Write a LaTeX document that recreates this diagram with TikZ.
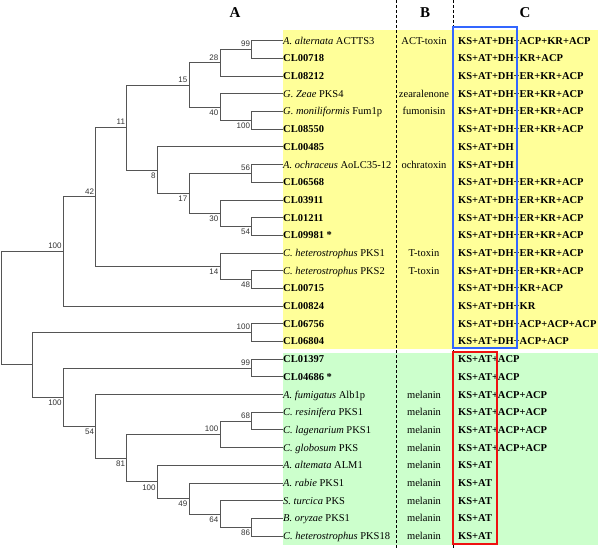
\documentclass[tikz,border=0pt]{standalone}
\usepackage{fontspec}
\setmainfont{Liberation Serif}
\newfontfamily\bootfont{Liberation Sans}
\definecolor{clyellow}{RGB}{255,255,153}
\definecolor{clgreen}{RGB}{204,255,204}
\definecolor{boxblue}{RGB}{51,102,255}
\definecolor{boxred}{RGB}{238,17,17}
\definecolor{branch}{RGB}{85,85,85}

\begin{document}
\begin{tikzpicture}[x=1pt,y=-1pt,
    leaf/.style={anchor=west, inner sep=0pt, font=\fontsize{10.5}{12}\selectfont, text height=7pt, text depth=0pt},
    prod/.style={inner sep=0pt, font=\fontsize{10.5}{12}\selectfont, text height=7pt, text depth=0pt},
    dom/.style={anchor=west, inner sep=0pt, font=\fontsize{10.5}{12}\selectfont\bfseries, text height=7pt, text depth=0pt},
    boot/.style={font=\bootfont\fontsize{8}{9}\selectfont, text=black!80, inner xsep=1.5pt, inner ysep=2.4pt},
    bootup/.style={boot, anchor=south east},
    bootdn/.style={boot, anchor=north east},
    br/.style={draw=branch, line width=0.8pt},
    colsep/.style={line width=1.1pt, dash pattern=on 3pt off 2pt}]
    % one row every \dy, first row at y=40.7
    \def\dy{17.69}
    \def\ry#1{40.7+(#1-1)*\dy}
    \useasboundingbox (0,0) rectangle (600,548);

    % Clade backgrounds
    \fill[clyellow] (283,30) rectangle (598,349);
    \fill[clgreen] (283,353) rectangle (598,545);

    % Column separators
    \draw[colsep] (396.7,0) -- (396.7,548);
    \draw[colsep] (453.3,0) -- (453.3,548);

    % Column headers
    \node[font=\fontsize{15}{16}\selectfont\bfseries] (headA) at (235,12.5) {A};
    \node[font=\fontsize{15}{16}\selectfont\bfseries] (headB) at (425,12.5) {B};
    \node[font=\fontsize{15}{16}\selectfont\bfseries] (headC) at (525,12.5) {C};

    % Leaves: name / product / domains
    \foreach \i/\txt/\prd/\dm in {
      1/{\textit{A. alternata} ACTTS3}/ACT-toxin/KS+AT+DH+ACP+KR+ACP,
      2/{\textbf{CL00718}}//KS+AT+DH+KR+ACP,
      3/{\textbf{CL08212}}//KS+AT+DH+ER+KR+ACP,
      4/{\textit{G. Zeae} PKS4}/zearalenone/KS+AT+DH+ER+KR+ACP,
      5/{\textit{G. moniliformis} Fum1p}/fumonisin/KS+AT+DH+ER+KR+ACP,
      6/{\textbf{CL08550}}//KS+AT+DH+ER+KR+ACP,
      7/{\textbf{CL00485}}//KS+AT+DH,
      8/{\textit{A. ochraceus} AoLC35-12}/ochratoxin/KS+AT+DH,
      9/{\textbf{CL06568}}//KS+AT+DH+ER+KR+ACP,
      10/{\textbf{CL03911}}//KS+AT+DH+ER+KR+ACP,
      11/{\textbf{CL01211}}//KS+AT+DH+ER+KR+ACP,
      12/{\textbf{CL09981 *}}//KS+AT+DH+ER+KR+ACP,
      13/{\textit{C. heterostrophus} PKS1}/T-toxin/KS+AT+DH+ER+KR+ACP,
      14/{\textit{C. heterostrophus} PKS2}/T-toxin/KS+AT+DH+ER+KR+ACP,
      15/{\textbf{CL00715}}//KS+AT+DH+KR+ACP,
      16/{\textbf{CL00824}}//KS+AT+DH+KR,
      17/{\textbf{CL06756}}//KS+AT+DH+ACP+ACP+ACP,
      18/{\textbf{CL06804}}//KS+AT+DH+ACP+ACP,
      19/{\textbf{CL01397}}//KS+AT+ACP,
      20/{\textbf{CL04686 *}}//KS+AT+ACP,
      21/{\textit{A. fumigatus} Alb1p}/melanin/KS+AT+ACP+ACP,
      22/{\textit{C. resinifera} PKS1}/melanin/KS+AT+ACP+ACP,
      23/{\textit{C. lagenarium} PKS1}/melanin/KS+AT+ACP+ACP,
      24/{\textit{C. globosum} PKS}/melanin/KS+AT+ACP+ACP,
      25/{\textit{A. altemata} ALM1}/melanin/KS+AT,
      26/{\textit{A. rabie} PKS1}/melanin/KS+AT,
      27/{\textit{S. turcica} PKS}/melanin/KS+AT,
      28/{\textit{B. oryzae} PKS1}/melanin/KS+AT,
      29/{\textit{C. heterostrophus} PKS18}/melanin/KS+AT}{
      \node[leaf] (leaf\i) at (283,{\ry{\i}}) {\txt};
      \ifx\prd\empty\else
        \node[prod] (prod\i) at (424,{\ry{\i}}) {\prd};
      \fi
      \node[dom] (dom\i) at (458,{\ry{\i}}) {\dm};
    }

    % Internal nodes: name / x / row (mean of children) / bootstrap / side
    \foreach \n/\x/\r/\bs/\side in {
      n99a/251.7/1.5/99/bootup, n28/220/2.25/28/bootup,
      n100a/251.7/5.5/100/bootdn, n40/220/4.75/40/bootdn,
      n15/189/3.5/15/bootup, n56/251.7/8.5/56/bootup,
      n54a/251.7/11.5/54/bootdn, n30/220/10.75/30/bootdn,
      n17/189/9.625/17/bootdn, n8/157.3/8.3125/8/bootdn,
      n11/126.7/5.90625/11/bootup, n48/251.7/14.5/48/bootdn,
      n14/220/13.75/14/bootdn, n42/95.7/9.828125/42/bootup,
      n100b/63.3/12.9140625/100/bootup, n100c/251.7/17.5/100/bootup,
      n99b/251.7/19.5/99/bootup, n68/251.7/22.5/68/bootup,
      n100f/220/23.25/100/bootup, n86/251.7/28.5/86/bootdn,
      n64/220/27.75/64/bootdn, n49/189/26.875/49/bootdn,
      n100g/157.3/25.9375/100/bootdn, n81/126.7/24.59375/81/bootdn,
      n54b/95.7/22.796875/54/bootdn, n100e/63.3/21.1484375/100/bootdn}{
      \coordinate (\n) at (\x,{\ry{\r}});
      \node[\side] (bs\n) at (\n) {\bs};
    }
    % unlabelled joins
    \coordinate (n100d) at (32.3,{\ry{19.32421875}});
    \coordinate (root) at (1.7,{\ry{16.119140625}});

    % Branches: parent |- child
    \foreach \p/\c in {
      n99a/leaf1, n99a/leaf2, n28/n99a, n28/leaf3,
      n100a/leaf5, n100a/leaf6, n40/leaf4, n40/n100a,
      n15/n28, n15/n40, n56/leaf8, n56/leaf9,
      n54a/leaf11, n54a/leaf12, n30/leaf10, n30/n54a,
      n17/n56, n17/n30, n8/leaf7, n8/n17,
      n11/n15, n11/n8, n48/leaf14, n48/leaf15,
      n14/leaf13, n14/n48, n42/n11, n42/n14,
      n100b/n42, n100b/leaf16, n100c/leaf17, n100c/leaf18,
      n99b/leaf19, n99b/leaf20, n68/leaf22, n68/leaf23,
      n100f/n68, n100f/leaf24, n86/leaf28, n86/leaf29,
      n64/leaf27, n64/n86, n49/leaf26, n49/n64,
      n100g/leaf25, n100g/n49, n81/n100f, n81/n100g,
      n54b/leaf21, n54b/n81, n100e/n99b, n100e/n54b,
      n100d/n100c, n100d/n100e, root/n100b, root/n100d}
      \draw[br] (\p) |- (\c);

    % Domain groups
    \draw[boxblue, line width=2pt] (453.3,27.3) rectangle (517.3,348.3);
    \draw[boxred, line width=2pt] (453.3,351.7) rectangle (496.7,544);
\end{tikzpicture}
\end{document}
